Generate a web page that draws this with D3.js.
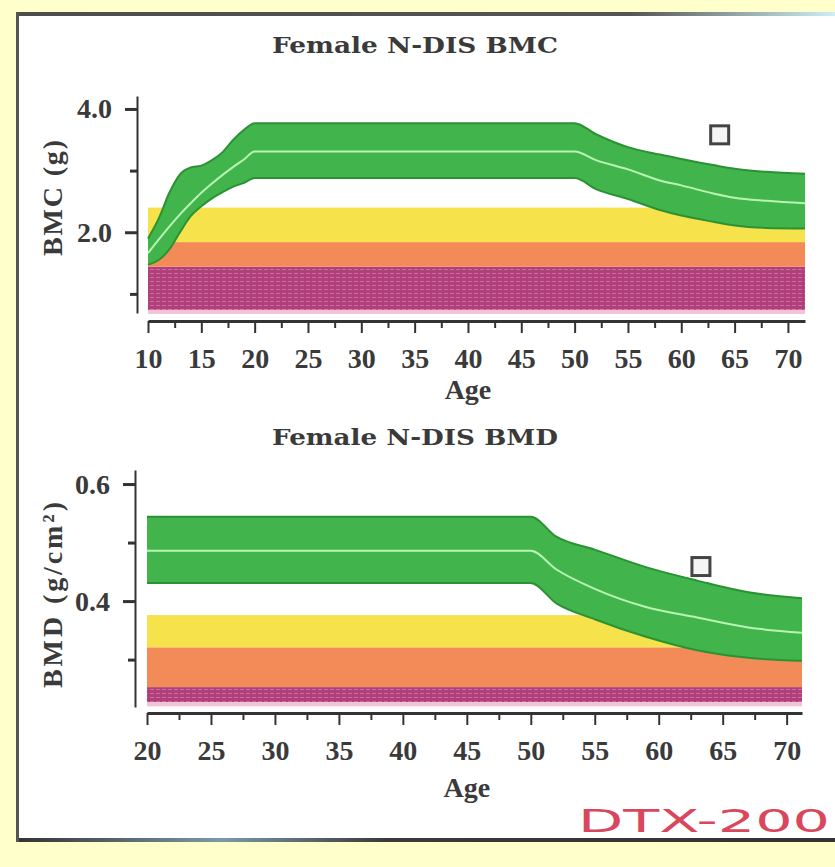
<!DOCTYPE html>
<html lang="en">
<head>
<meta charset="UTF-8">
<title>Female N-DIS BMC / BMD</title>
<style>
  body { margin: 0; background: #ffffcc; }
  svg text { font-family: "Liberation Serif", "DejaVu Serif", serif; font-weight: bold; fill: #3a3a3a; }
</style>
</head>
<body>
<script src="https://cdn.jsdelivr.net/npm/d3@7"></script>
<div id="chart"></div>
<script>
// ---- BMC panel (age 10-71) ----
const bmcAges  = [10, 11, 12, 13, 14, 15, 16, 17, 18, 19, 20, 50, 52, 55, 58, 60, 63, 65, 68, 71.6]
const bmcUpper = [1.90, 2.22, 2.64, 2.94, 3.05, 3.08, 3.17, 3.30, 3.50, 3.66, 3.77, 3.77, 3.59, 3.38, 3.26, 3.19, 3.09, 3.03, 2.98, 2.95]
const bmcMean  = [1.66, 1.88, 2.09, 2.29, 2.47, 2.64, 2.79, 2.93, 3.06, 3.18, 3.31, 3.31, 3.17, 3.02, 2.84, 2.76, 2.63, 2.56, 2.51, 2.47]
const bmcLower = [1.47, 1.55, 1.72, 2.00, 2.26, 2.42, 2.55, 2.65, 2.74, 2.80, 2.88, 2.88, 2.70, 2.54, 2.36, 2.27, 2.17, 2.11, 2.07, 2.06]
const bmcZones = [0.74, 1.44, 1.84, 2.40]      // magenta | orange | yellow limits
const bmcPatient = { age: 63.6, value: 3.58 }
const bmcXTicks = [10, 15, 20, 25, 30, 35, 40, 45, 50, 55, 60, 65, 70]
const bmcYTicks = [2.0, 4.0]
const bmcYMinor = [1.0, 3.0]

// ---- BMD panel (age 20-71) ----
const bmdAges  = [20, 50, 52, 55, 59, 63, 67, 71.2]
const bmdUpper = [0.544, 0.544, 0.510, 0.488, 0.458, 0.435, 0.415, 0.405]
const bmdMean  = [0.486, 0.486, 0.454, 0.421, 0.390, 0.372, 0.355, 0.346]
const bmdLower = [0.431, 0.431, 0.396, 0.369, 0.339, 0.316, 0.303, 0.298]
const bmdZones = [0.227, 0.253, 0.321, 0.376]
const bmdPatient = { age: 63.3, value: 0.459 }
const bmdXTicks = [20, 25, 30, 35, 40, 45, 50, 55, 60, 65, 70]
const bmdYTicks = [0.4, 0.6]
const bmdYMinor = [0.3, 0.5]

const W = 835, H = 867
const svg = d3.select('#chart').append('svg').attr('width', W).attr('height', H)

// paper and frame
const defs = svg.append('defs')
const hatch = defs.append('pattern').attr('id', 'hatch').attr('width', 6).attr('height', 4)
    .attr('patternUnits', 'userSpaceOnUse')
hatch.append('rect').attr('width', 6).attr('height', 4).attr('fill', '#b0407c')
hatch.append('rect').attr('y', 1).attr('width', 4).attr('height', 1).attr('fill', '#d06a9f')

const topGrad = defs.append('linearGradient').attr('id', 'topGrad')
topGrad.append('stop').attr('offset', '0%').attr('stop-color', '#4d4d4d')
topGrad.append('stop').attr('offset', '75%').attr('stop-color', '#555')
topGrad.append('stop').attr('offset', '100%').attr('stop-color', '#cdeff4')
const botGrad = defs.append('linearGradient').attr('id', 'botGrad')
botGrad.append('stop').attr('offset', '0%').attr('stop-color', '#333')
botGrad.append('stop').attr('offset', '25%').attr('stop-color', '#7d9aa6')
botGrad.append('stop').attr('offset', '45%').attr('stop-color', '#3a3a3a')
botGrad.append('stop').attr('offset', '100%').attr('stop-color', '#333')

svg.append('rect').attr('x', 17).attr('y', 13).attr('width', W - 17).attr('height', 828).attr('fill', '#fff')
svg.append('rect').attr('x', 17).attr('y', 12).attr('width', W - 17).attr('height', 4).attr('fill', 'url(#topGrad)')
svg.append('rect').attr('x', 17).attr('y', 838).attr('width', W - 17).attr('height', 4).attr('fill', 'url(#botGrad)')
svg.append('rect').attr('x', 16).attr('y', 12).attr('width', 3).attr('height', 830).attr('fill', '#555')

function drawPanel(p) {
    const x = d3.scaleLinear().domain(p.xDomain).range(p.xRange)
    const y = d3.scaleLinear().domain(p.yDomain).range(p.yRange)
    const [x0, x1] = x.range()
    const g = svg.append('g')

    // risk zones
    const zoneFill = ['url(#hatch)', '#f38b58', '#f6e24b']
    for (let i = 0; i < p.zones.length - 1; i++) {
        g.append('rect')
            .attr('x', x0).attr('width', x1 - x0)
            .attr('y', y(p.zones[i + 1]))
            .attr('height', y(p.zones[i]) - y(p.zones[i + 1]))
            .attr('fill', zoneFill[i])
    }
    g.append('rect').attr('x', x0).attr('width', x1 - x0)
        .attr('y', y(p.zones[0])).attr('height', 4).attr('fill', '#f1c4d5')

    // normal reference band
    const rows = p.ages.map((a, i) => ({ age: a, lo: p.lower[i], mid: p.mean[i], hi: p.upper[i] }))
    const area = d3.area().x(d => x(d.age)).y0(d => y(d.lo)).y1(d => y(d.hi)).curve(d3.curveMonotoneX)
    g.append('path').datum(rows).attr('d', area).attr('fill', '#42b44c')
    const line = key => d3.line().x(d => x(d.age)).y(d => y(d[key])).curve(d3.curveMonotoneX)
    ;['hi', 'lo'].forEach(k => {
        g.append('path').datum(rows).attr('d', line(k))
            .attr('fill', 'none').attr('stroke', '#2b9234').attr('stroke-width', 2)
    })
    g.append('path').datum(rows).attr('d', line('mid'))
        .attr('fill', 'none').attr('stroke', '#b8f5b2').attr('stroke-width', 2)

    // patient
    g.append('rect')
        .attr('x', x(p.patient.age) - 9).attr('y', y(p.patient.value) - 9)
        .attr('width', 18).attr('height', 18)
        .attr('fill', '#f4f4f4').attr('stroke', '#444').attr('stroke-width', 3)

    // x axis
    const minor = p.xTicks.map(t => t + 2.5).filter(t => t < p.xDomain[1])
    const gx = svg.append('g').attr('transform', `translate(0,${p.xAxisY})`).attr('color', '#333')
    gx.append('g').call(d3.axisBottom(x).tickValues(minor).tickSize(7).tickSizeOuter(0).tickFormat(''))
        .select('.domain').remove()
    gx.append('g').call(d3.axisBottom(x).tickValues(p.xTicks).tickSize(12).tickSizeOuter(0).tickFormat(d3.format('d')))
    gx.selectAll('.domain').attr('stroke-width', 3)
    gx.selectAll('.tick line').attr('stroke-width', 2)
    gx.selectAll('.tick text').attr('y', 37).attr('dy', '0.35em').style('font-size', '28px')

    // y axis
    const gy = svg.append('g').attr('transform', `translate(${p.yAxisX},0)`).attr('color', '#333')
    gy.append('g').call(d3.axisLeft(y).tickValues(p.yMinor).tickSize(7).tickSizeOuter(0).tickFormat(''))
        .select('.domain').remove()
    gy.append('g').call(d3.axisLeft(y).tickValues(p.yTicks).tickSize(12).tickPadding(13)
        .tickSizeOuter(0).tickFormat(d3.format('.1f')))
    gy.selectAll('.domain').attr('stroke-width', 2)
    gy.selectAll('.tick line').attr('stroke-width', 3)
    gy.selectAll('.tick text').style('font-size', '28px')

    // texts
    svg.append('text').attr('x', 415).attr('y', p.titleY).attr('dy', '0.35em')
        .attr('text-anchor', 'middle')
        .style('font-family', '"DejaVu Serif", serif').style('font-size', '23px')
        .attr('textLength', 286).attr('lengthAdjust', 'spacingAndGlyphs').text(p.title)
    svg.append('text').attr('x', (x(p.xTicks[0]) + x(p.xTicks[p.xTicks.length - 1])) / 2)
        .attr('y', p.ageY).attr('dy', '0.35em').attr('text-anchor', 'middle')
        .style('font-size', '28px').text('Age')
    svg.append('text').attr('transform', `translate(52,${p.yLabelY}) rotate(-90)`)
        .attr('dy', '0.35em').attr('text-anchor', 'middle').style('font-size', '28px')
        .attr('textLength', p.yLabelLen).attr('lengthAdjust', 'spacing').text(p.yLabel)
}

drawPanel({
    title: 'Female N-DIS BMC', titleY: 45, ageY: 389,
    yLabel: 'BMC (g)', yLabelY: 198, yLabelLen: 116,
    xDomain: [10, 71.6], xRange: [148, 805], xAxisY: 321,
    yDomain: [4.21, 0.69], yRange: [96, 313], yAxisX: 137,
    ages: bmcAges, upper: bmcUpper, mean: bmcMean, lower: bmcLower,
    zones: bmcZones, patient: bmcPatient,
    xTicks: bmcXTicks, yTicks: bmcYTicks, yMinor: bmcYMinor
})

drawPanel({
    title: 'Female N-DIS BMD', titleY: 437, ageY: 787,
    yLabel: 'BMD (g/cm²)', yLabelY: 595, yLabelLen: 186,
    xDomain: [20, 71.2], xRange: [147, 802], xAxisY: 713,
    yDomain: [0.624, 0.219], yRange: [470, 707], yAxisX: 135,
    ages: bmdAges, upper: bmdUpper, mean: bmdMean, lower: bmdLower,
    zones: bmdZones, patient: bmdPatient,
    xTicks: bmdXTicks, yTicks: bmdYTicks, yMinor: bmdYMinor
})

// maker logo
svg.append('text').attr('x', 830).attr('y', 832).attr('text-anchor', 'end')
    .attr('textLength', 252).attr('lengthAdjust', 'spacingAndGlyphs')
    .style('font-family', '"DejaVu Sans", sans-serif').style('font-size', '32px')
    .style('fill', '#d8475c').style('font-weight', 'normal')
    .text('DTX-200')
</script>
</body>
</html>
